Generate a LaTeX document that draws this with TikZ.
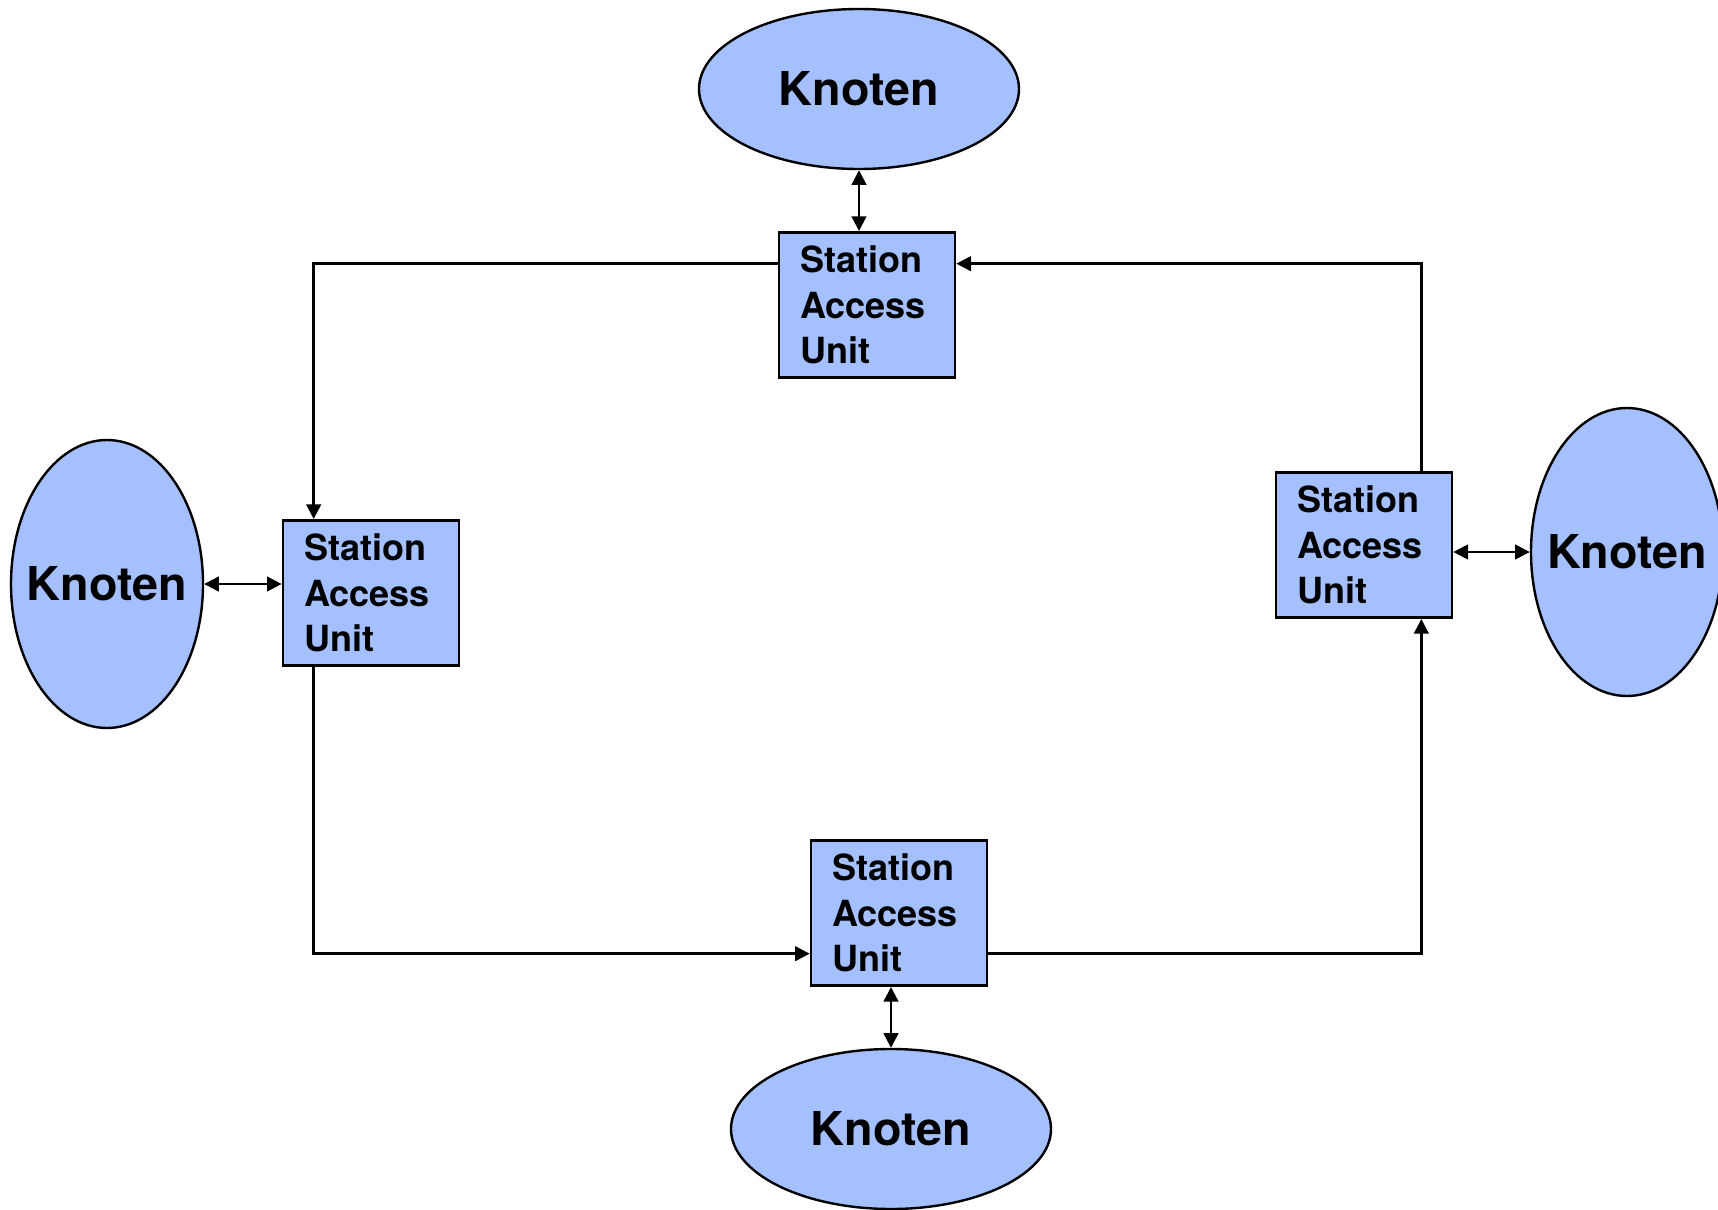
\documentclass[tikz,border=0pt]{standalone}
\usepackage{fontspec}
\setmainfont{TeX Gyre Heros}
\usetikzlibrary{shapes.geometric,arrows.meta}

\definecolor{sauBlue}{RGB}{164,192,255}
\tikzset{every picture/.style={line width=1.8pt}}
\tikzset{
  knoten/.style={ellipse, draw, fill=sauBlue, line width=1.8pt, inner sep=0pt,
    font=\bfseries\fontsize{35}{40}\selectfont},
  saubox/.style={rectangle, draw, fill=sauBlue, line width=2pt,
    minimum width=132pt, minimum height=109pt, inner xsep=16pt, text width=100pt,
    align=left, font=\bfseries\fontsize{27}{34}\selectfont},
  ring/.style={-{Triangle[length=11pt,width=11pt]}},
  link/.style={{Triangle[length=11pt,width=11pt]}-{Triangle[length=11pt,width=11pt]}}
}

\begin{document}
\begin{tikzpicture}[x=0.75pt,y=0.75pt,yscale=-1,xscale=1]
\useasboundingbox (0,0) rectangle (1718,1210);

% Knoten
\node [knoten, minimum width=240pt, minimum height=120pt] (topK) at (859,89) {\makebox[0pt]{Knoten}};
\node [knoten, minimum width=144pt, minimum height=216pt] (leftK) at (107,584) {\makebox[0pt]{Knoten}};
\node [knoten, minimum width=144pt, minimum height=216pt] (rightK) at (1627,552) {\makebox[0pt]{Knoten}};
\node [knoten, minimum width=240pt, minimum height=120pt] (botK) at (891,1129) {\makebox[0pt]{Knoten}};

% Station Access Units
\node [saubox] (topSAU) at (867,305) {Station\\Access\\Unit};
\node [saubox] (leftSAU) at (371,593) {Station\\Access\\Unit};
\node [saubox] (rightSAU) at (1364,545) {Station\\Access\\Unit};
\node [saubox] (botSAU) at (899,913) {Station\\Access\\Unit};

% Ring
\draw [ring] ([yshift=24.5pt]topSAU.north west) -| ([xshift=24pt]leftSAU.north west);
\draw [ring] ([xshift=24pt]leftSAU.south west) |- ([yshift=-25pt]botSAU.south west);
\draw [ring] ([yshift=-25pt]botSAU.south east) -| ([xshift=-24pt]rightSAU.south east);
\draw [ring] ([xshift=-24pt]rightSAU.north east) |- ([yshift=24.5pt]topSAU.north east);

% Knoten <-> SAU
\draw [link] (topK.south) -- (topK.south |- topSAU.north);
\draw [link] (leftK.east) -- (leftK.east -| leftSAU.west);
\draw [link] (rightSAU.east |- rightK.west) -- (rightK.west);
\draw [link] (botK.north |- botSAU.south) -- (botK.north);
\end{tikzpicture}
\end{document}
